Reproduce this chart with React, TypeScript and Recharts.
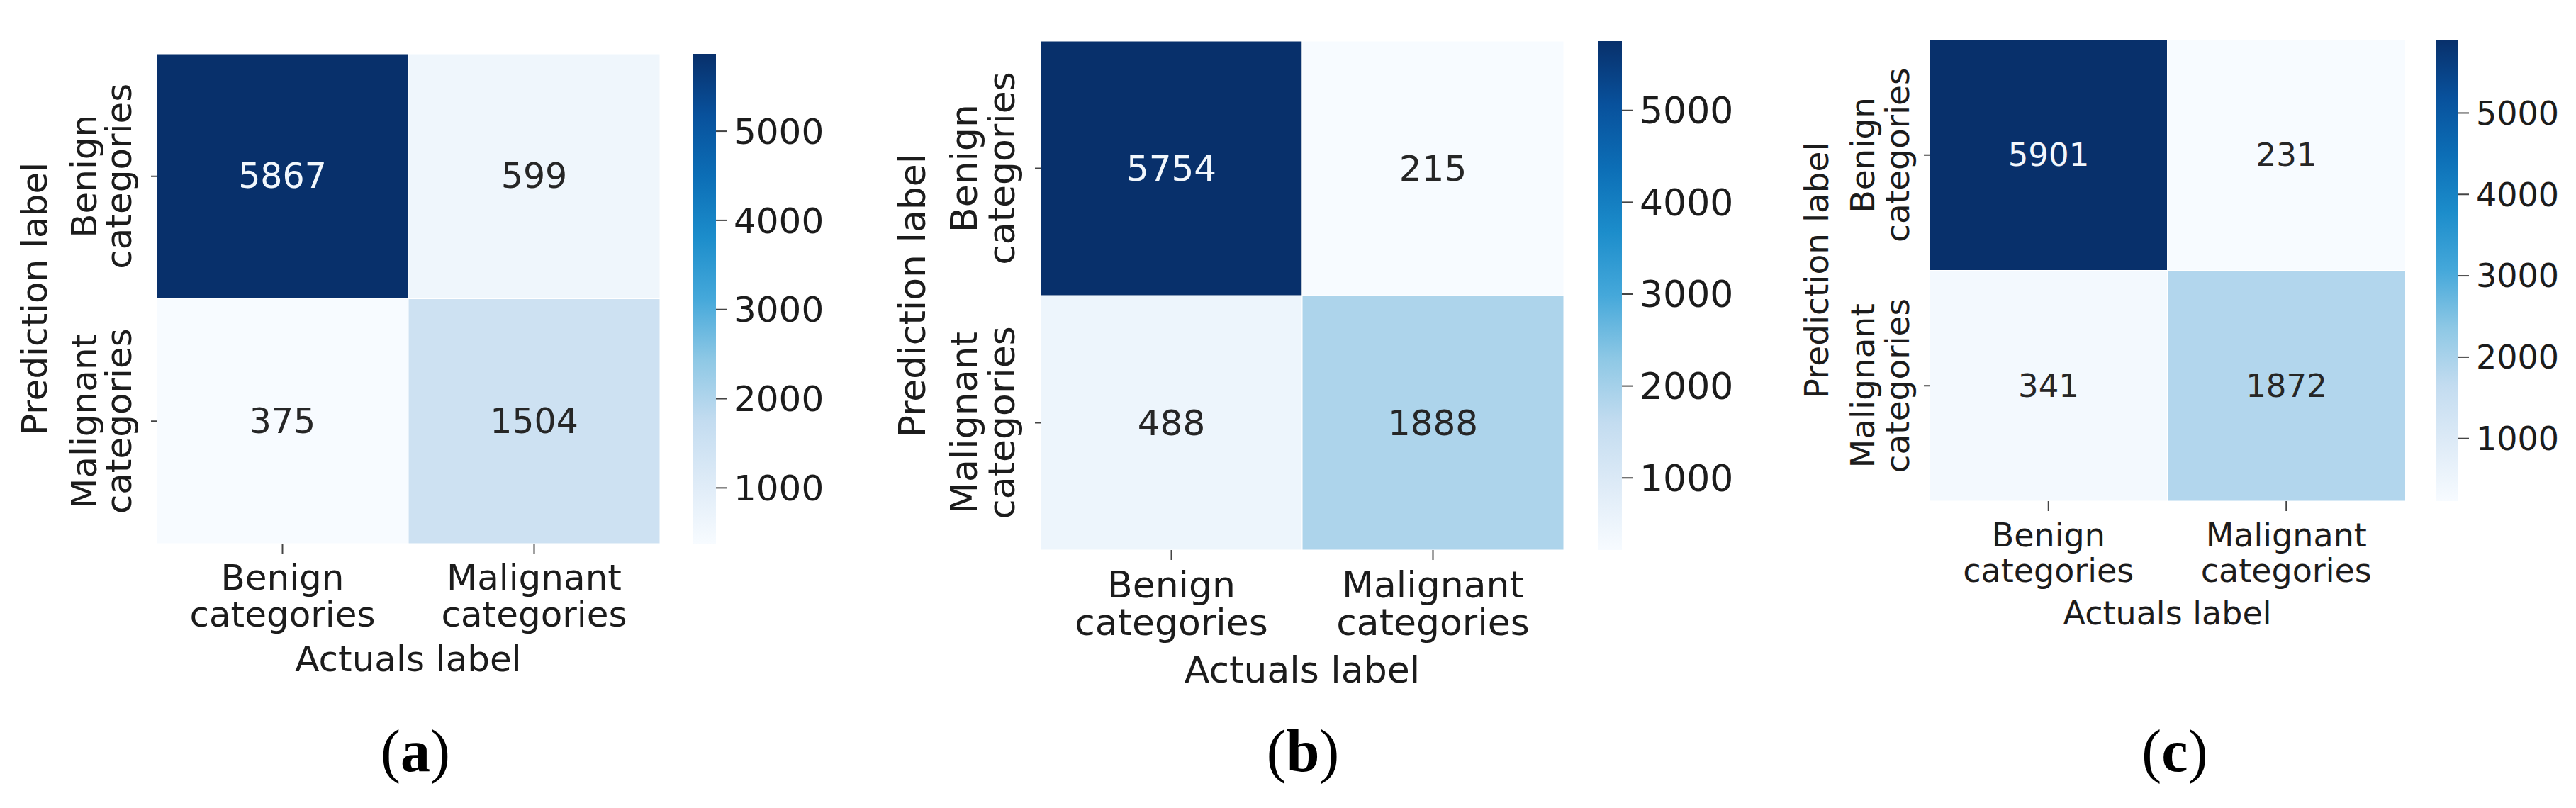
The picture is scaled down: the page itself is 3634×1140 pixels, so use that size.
import React from 'react';
import { BarChart, Bar, XAxis, YAxis, Cell, LabelList } from 'recharts';

// class names (columns = actual, rows = predicted)
const actualLabels = ['Benign categories', 'Malignant categories'];
const predictedLabels = ['Benign categories', 'Malignant categories'];

// (a)
const predBenignA = [5867, 599];
const predMalignantA = [375, 1504];
// (b)
const predBenignB = [5754, 215];
const predMalignantB = [488, 1888];
// (c)
const predBenignC = [5901, 231];
const predMalignantC = [341, 1872];

const colorbarTicks = [1000, 2000, 3000, 4000, 5000];
const panelLetters = ['a', 'b', 'c'];

const FONT = '"DejaVu Sans", sans-serif';
const INK = '#1c1c1c';

// Blues-like colormap, a bit more saturated in the middle like the picture
const blueStops: [number, string][] = [
  [0, '#f7fbff'],
  [0.125, '#deebf7'],
  [0.25, '#c3dcf0'],
  [0.375, '#8ec8e5'],
  [0.5, '#45a8da'],
  [0.625, '#1c8dcb'],
  [0.75, '#0c6eb6'],
  [0.875, '#08519c'],
  [1, '#08306b'],
];

const hex = (c: string) => [1, 3, 5].map((i) => parseInt(c.slice(i, i + 2), 16));

function blueAt(t: number) {
  const v = Math.max(0, Math.min(1, t));
  for (let i = 1; i < blueStops.length; i++) {
    const [t1, c1] = blueStops[i];
    const [t0, c0] = blueStops[i - 1];
    if (v <= t1) {
      const f = (v - t0) / (t1 - t0);
      const a = hex(c0), b = hex(c1);
      const m = a.map((x, k) => Math.round(x + (b[k] - x) * f));
      return `rgb(${m[0]},${m[1]},${m[2]})`;
    }
  }
  return blueStops[blueStops.length - 1][1];
}

const layouts = [
  { heat: { x: 221, y: 76, w: 710, h: 691 }, bar: { x: 977, w: 33 }, fs: 50, yFs: 50, cellFs: 49, cbFs: 50, yTitle: 172, yLines: [102, 53], xLines: [65, 117], xTitle: 180, letterX: 586 },
  { heat: { x: 1468, y: 58, w: 738, h: 718 }, bar: { x: 2255, w: 33 }, fs: 52, yFs: 52, cellFs: 50, cbFs: 52, yTitle: 181, yLines: [108, 55], xLines: [67, 120], xTitle: 187, letterX: 1838 },
  { heat: { x: 2722, y: 56, w: 671, h: 651 }, bar: { x: 3436, w: 32 }, fs: 46, yFs: 47, cellFs: 45, cbFs: 46, yTitle: 160, yLines: [95, 46], xLines: [64, 114], xTitle: 174, letterX: 3068 },
];

const AX_W = 250;
const AX_H = 220;
const X_TICK = 14;
const Y_TICK = 8;

function Panel({ benign, malignant, lay, id }: any) {
  const all = [...benign, ...malignant];
  const lo = Math.min(...all);
  const hi = Math.max(...all);
  const color = (v: number) => blueAt((v - lo) / (hi - lo));
  const rows = actualLabels.map((name, i) => ({ actual: name, benign: benign[i], malignant: malignant[i], unit: 1 }));
  const { heat, bar, fs } = lay;

  const cellLabel = (p: any) => {
    const v = Number(p.value);
    const dark = (v - lo) / (hi - lo) > 0.5;
    return (
      <text x={p.x + p.width / 2} y={p.y + p.height / 2} textAnchor="middle" dominantBaseline="central"
        fontFamily={FONT} fontSize={lay.cellFs} fill={dark ? '#f2f7fc' : '#262626'}>
        {v}
      </text>
    );
  };

  const xTick = (p: any) => {
    const [w1, w2] = String(p.payload.value).split(' ');
    const base = p.y - X_TICK;
    return (
      <g>
        <text x={p.x} y={base + lay.xLines[0]} textAnchor="middle" fontFamily={FONT} fontSize={fs} fill={INK}>{w1}</text>
        <text x={p.x} y={base + lay.xLines[1]} textAnchor="middle" fontFamily={FONT} fontSize={fs} fill={INK}>{w2}</text>
      </g>
    );
  };

  const yTick = (p: any) => {
    const name = p.payload.value > 1 ? predictedLabels[0] : predictedLabels[1];
    const [w1, w2] = name.split(' ');
    const base = p.x + Y_TICK;
    return (
      <g>
        <text transform={`translate(${base - lay.yLines[0]},${p.y}) rotate(-90)`} textAnchor="middle" dominantBaseline="central"
          fontFamily={FONT} fontSize={lay.yFs} fill={INK}>{w1}</text>
        <text transform={`translate(${base - lay.yLines[1]},${p.y}) rotate(-90)`} textAnchor="middle" dominantBaseline="central"
          fontFamily={FONT} fontSize={lay.yFs} fill={INK}>{w2}</text>
      </g>
    );
  };

  const xTitle = (p: any) => {
    const vb = p.viewBox;
    return (
      <text x={vb.x + vb.width / 2} y={vb.y + lay.xTitle} textAnchor="middle" fontFamily={FONT} fontSize={fs} fill={INK}>
        Actuals label
      </text>
    );
  };

  const yTitle = (p: any) => {
    const vb = p.viewBox;
    const cx = vb.x + vb.width - lay.yTitle;
    const cy = vb.y + vb.height / 2;
    return (
      <text transform={`translate(${cx},${cy}) rotate(-90)`} textAnchor="middle" dominantBaseline="central"
        fontFamily={FONT} fontSize={lay.yFs} fill={INK}>
        Prediction label
      </text>
    );
  };

  const cbData = [{ k: 'scale', range: [lo, hi] }];
  const gradId = `cb-${id}`;
  const left = Math.max(0, heat.x - AX_W);
  const axW = heat.x - left;

  return (
    <>
      <div style={{ position: 'absolute', left, top: heat.y - 10 }}>
        <BarChart width={axW + heat.w + 10} height={heat.h + 10 + AX_H} data={rows}
          margin={{ top: 10, right: 10, left: 0, bottom: 0 }} barCategoryGap={0}>
          <XAxis dataKey="actual" height={AX_H} axisLine={false} tickSize={X_TICK} tickMargin={0}
            tickLine={{ stroke: '#444', strokeWidth: 2 }} tick={xTick} interval={0}
            label={{ content: xTitle }} />
          <YAxis type="number" domain={[0, 2]} ticks={[0.5, 1.5]} width={axW} axisLine={false}
            tickSize={Y_TICK} tickMargin={0} tickLine={{ stroke: '#444', strokeWidth: 2 }} tick={yTick}
            label={{ content: yTitle }} />
          <Bar dataKey="unit" stackId="m" isAnimationActive={false} stroke="#ffffff" strokeWidth={1}>
            {rows.map((r, i) => <Cell key={i} fill={color(r.malignant)} />)}
            <LabelList dataKey="malignant" content={cellLabel} />
          </Bar>
          <Bar dataKey="unit" stackId="m" isAnimationActive={false} stroke="#ffffff" strokeWidth={1}>
            {rows.map((r, i) => <Cell key={i} fill={color(r.benign)} />)}
            <LabelList dataKey="benign" content={cellLabel} />
          </Bar>
        </BarChart>
      </div>
      <div style={{ position: 'absolute', left: bar.x, top: heat.y - 10 }}>
        <BarChart width={bar.w + 200} height={heat.h + 20} data={cbData}
          margin={{ top: 10, right: 0, left: 0, bottom: 10 }} barCategoryGap={0}>
          <defs>
            <linearGradient id={gradId} x1="0" y1="0" x2="0" y2="1">
              {blueStops.map(([t, c]) => <stop key={t} offset={1 - t} stopColor={c} />).reverse()}
            </linearGradient>
          </defs>
          <XAxis dataKey="k" hide />
          <YAxis orientation="right" type="number" domain={[lo, hi]} ticks={colorbarTicks} width={200}
            axisLine={false} tickSize={15} tickMargin={10} tickLine={{ stroke: '#444', strokeWidth: 2 }}
            tick={{ fontFamily: FONT, fontSize: lay.cbFs, fill: INK }} />
          <Bar dataKey="range" fill={`url(#${gradId})`} isAnimationActive={false} />
        </BarChart>
      </div>
    </>
  );
}

export default function App() {
  const mats = [
    [predBenignA, predMalignantA],
    [predBenignB, predMalignantB],
    [predBenignC, predMalignantC],
  ];
  return (
    <div style={{ position: 'absolute', left: 0, top: 0, width: 3634, height: 1140, background: '#ffffff', overflow: 'hidden' }}>
      {mats.map(([b, m], i) => (
        <Panel key={i} id={i} benign={b} malignant={m} lay={layouts[i]} />
      ))}
      <svg width={3634} height={1140} style={{ position: 'absolute', left: 0, top: 0, pointerEvents: 'none' }}>
        {panelLetters.map((l, i) => (
          <text key={l} x={layouts[i].letterX} y={1088} textAnchor="middle"
            fontFamily='"Liberation Serif", "Times New Roman", serif' fontSize={84} fill="#000">
            (<tspan fontWeight="bold">{l}</tspan>)
          </text>
        ))}
      </svg>
    </div>
  );
}
